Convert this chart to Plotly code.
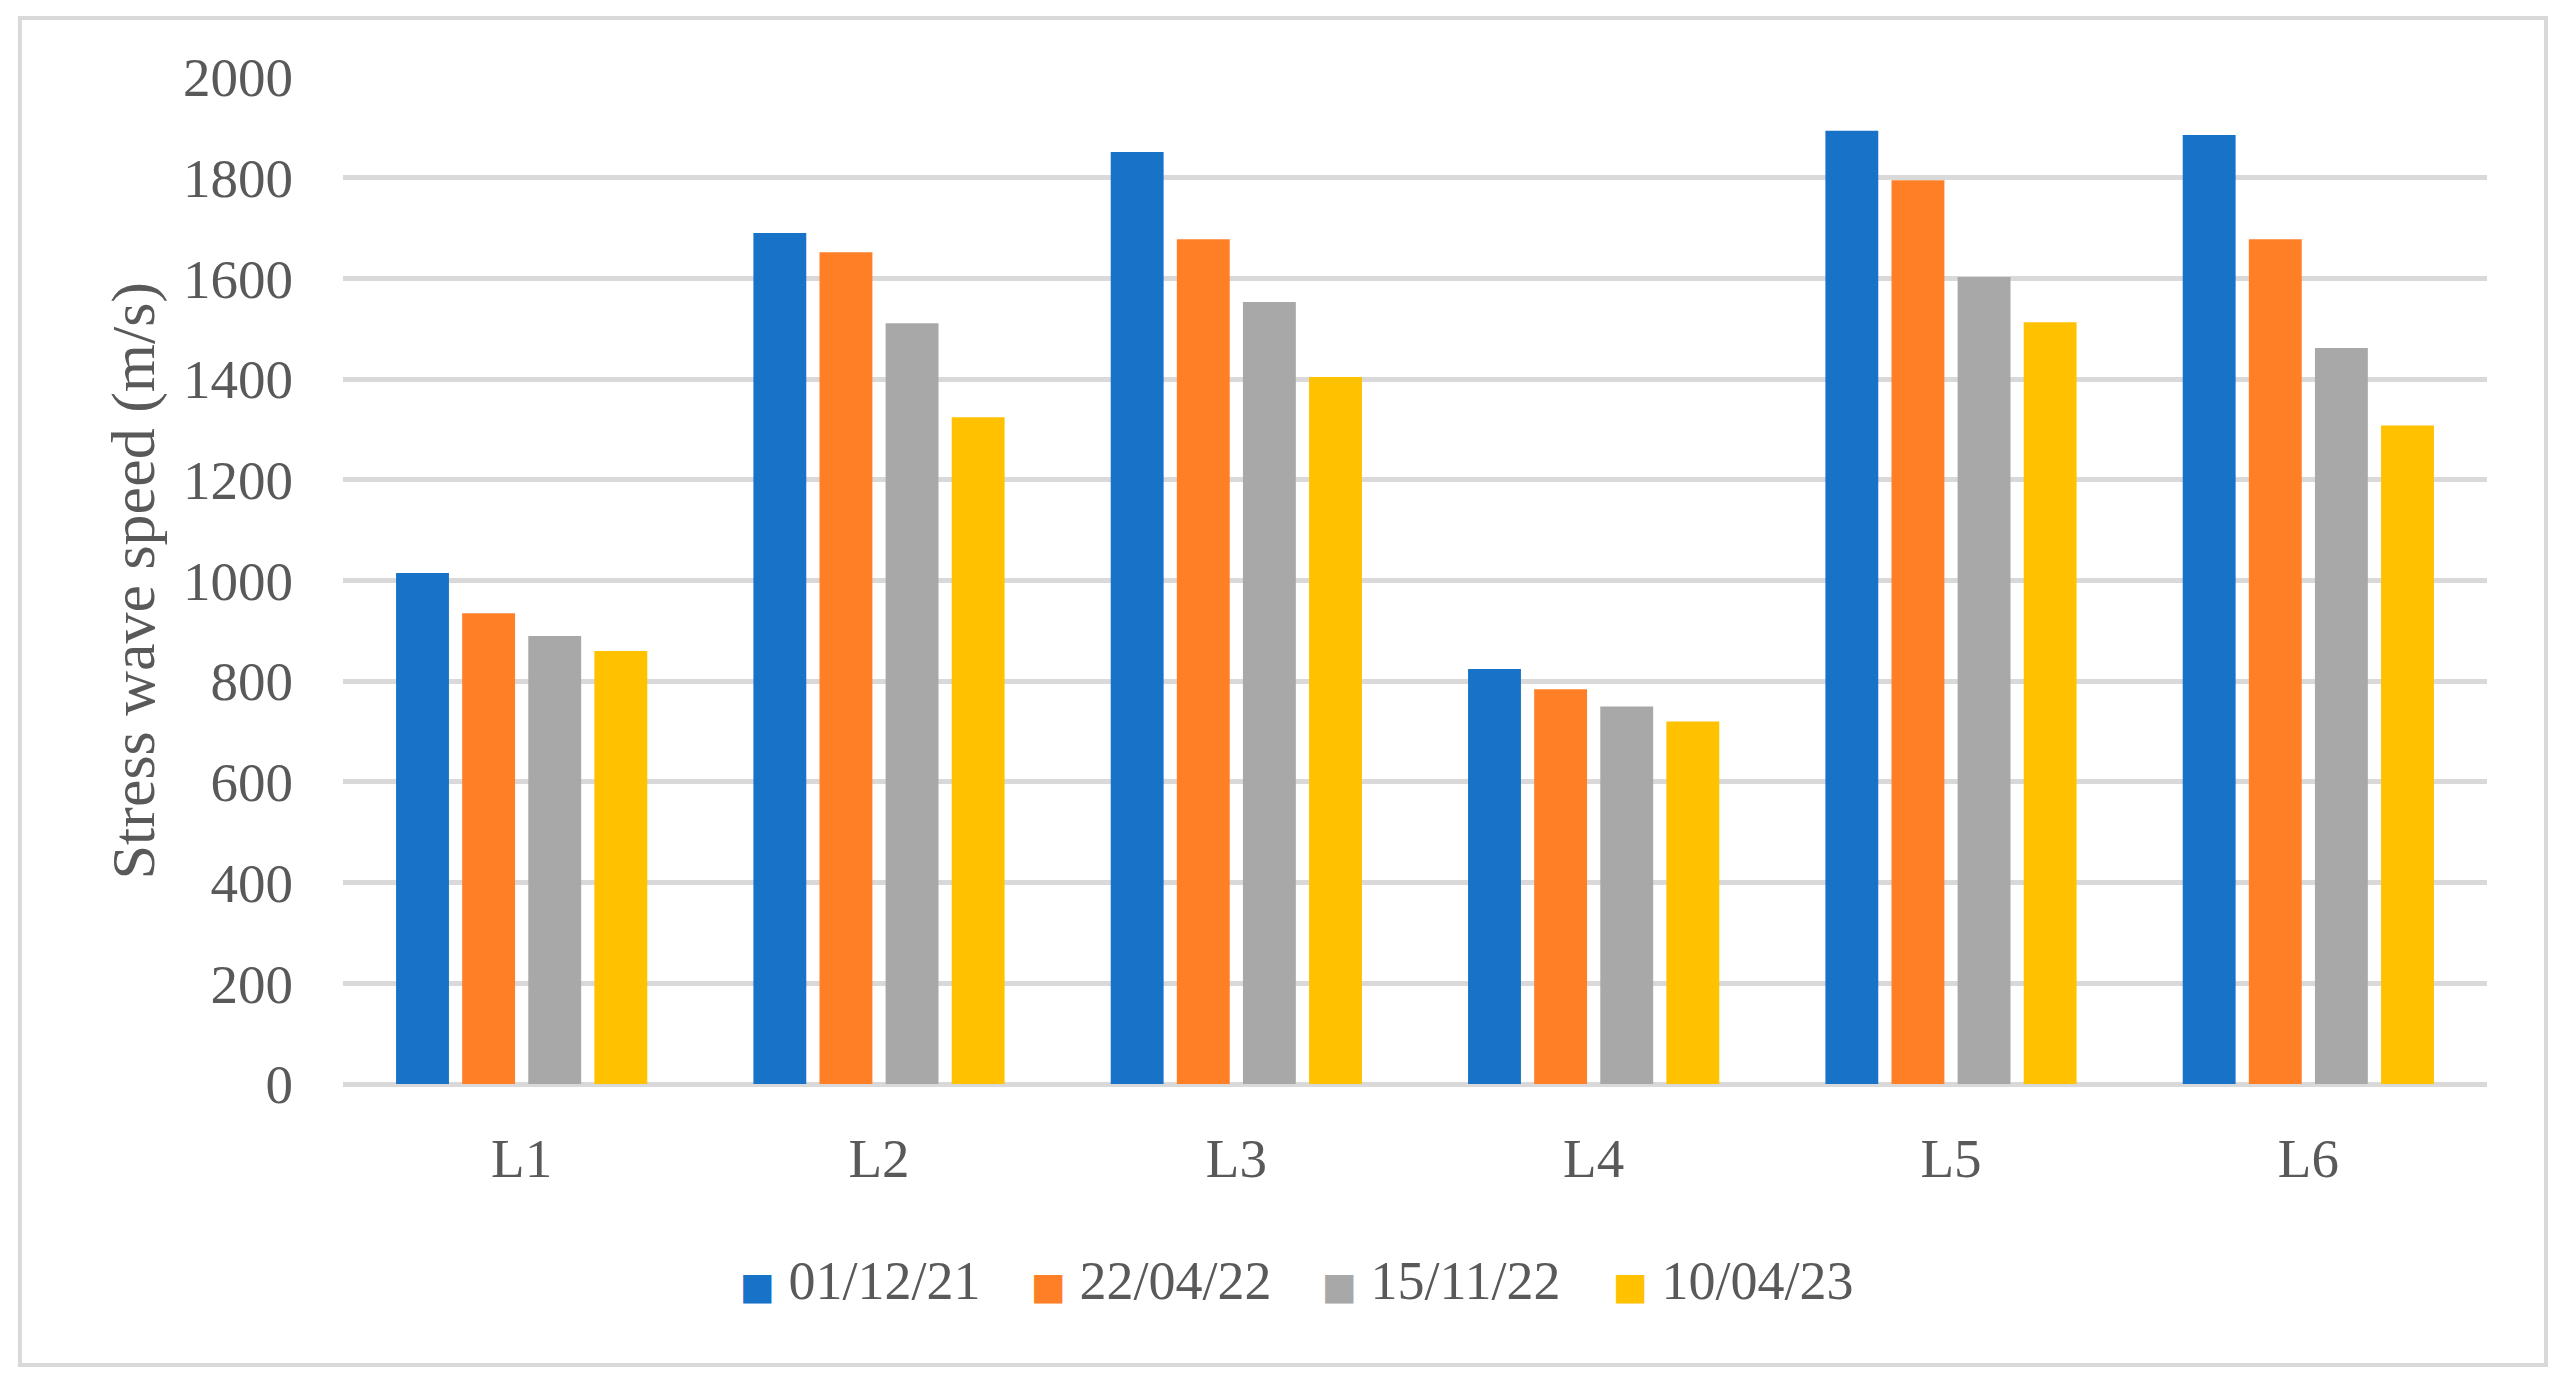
import plotly.graph_objects as go

categories = ["L1", "L2", "L3", "L4", "L5", "L6"]
series_names = ["01/12/21", "22/04/22", "15/11/22", "10/04/23"]
s_0112_21 = [1015, 1690, 1851, 824, 1893, 1885]
s_2204_22 = [935, 1652, 1678, 784, 1795, 1678]
s_1511_22 = [890, 1511, 1553, 750, 1603, 1462]
s_1004_23 = [860, 1324, 1404, 720, 1513, 1308]
y_ticks = [0, 200, 400, 600, 800, 1000, 1200, 1400, 1600, 1800, 2000]

colors = ["#1873C8", "#FF7F27", "#A8A8A8", "#FFC100"]
all_series = [s_0112_21, s_2204_22, s_1511_22, s_1004_23]

FONT = "Liberation Serif"
TXT = "#595959"
FS = 55

fig = go.Figure()
for name, vals, col in zip(series_names, all_series, colors):
    fig.add_trace(go.Bar(x=categories, y=vals, name=name,
                         marker=dict(color=col, line=dict(width=0)), showlegend=False))
# legend entries: large square glyph in the series colour, then the label
for name, col in zip(series_names, colors):
    label = (f'<span style="color:{col};font-family:DejaVu Sans;font-size:37px">■</span>'
             f' {name}')
    fig.add_trace(go.Scatter(x=[None], y=[None], mode="markers", name=label,
                             marker=dict(size=1, color="rgba(0,0,0,0)")))

fig.update_layout(
    width=2564, height=1386,
    margin=dict(l=335, r=85, t=69, b=310, autoexpand=False),
    paper_bgcolor="white", plot_bgcolor="white",
    barmode="group", bargap=0.26, bargroupgap=0.2,
    font=dict(family=FONT, color=TXT, size=FS),
    legend=dict(orientation="h", x=0.1665, xanchor="left", y=-0.193, yanchor="middle",
                font=dict(family=FONT, size=54, color=TXT),
                entrywidth=246, entrywidthmode="pixels",
                bgcolor="rgba(0,0,0,0)"),
    shapes=[dict(type="rect", xref="paper", yref="paper",
                 x0=-0.1507, x1=1.0275, y0=-0.2790, y1=1.0586,
                 line=dict(color="#D9D9D9", width=4), fillcolor="rgba(0,0,0,0)", layer="below")],
    annotations=[dict(text="Stress wave speed (m/s)", xref="paper", yref="paper",
                      x=-0.0975, y=0.5, xanchor="center", yanchor="middle",
                      textangle=-90, showarrow=False,
                      font=dict(family=FONT, size=62, color=TXT))],
)
fig.update_yaxes(range=[0, 2000], tickvals=y_ticks, ticktext=[str(v) for v in y_ticks],
                 showgrid=True, gridcolor="#D9D9D9", gridwidth=5,
                 zeroline=True, zerolinecolor="#D9D9D9", zerolinewidth=5,
                 showline=False, ticks="outside", ticklen=38, tickcolor="rgba(0,0,0,0)",
                 tickfont=dict(family=FONT, size=FS, color=TXT))
fig.update_xaxes(showgrid=False, showline=False, ticks="outside", ticklen=26,
                 tickcolor="rgba(0,0,0,0)",
                 tickfont=dict(family=FONT, size=FS, color=TXT))

fig.write_html("out.html")
